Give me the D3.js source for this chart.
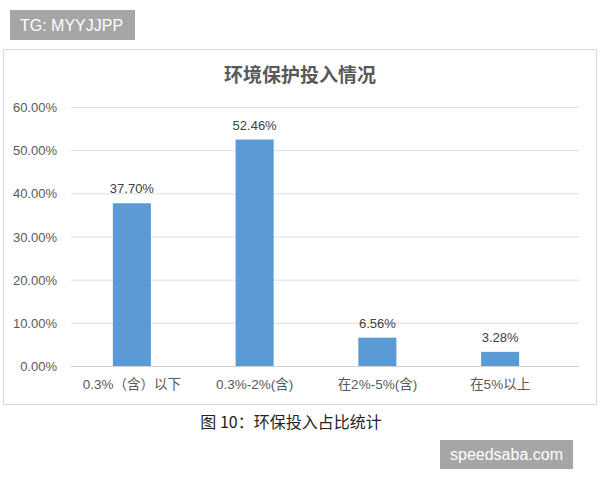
<!DOCTYPE html>
<html><head><meta charset="utf-8">
<script src="https://cdn.jsdelivr.net/npm/d3@7"></script>
<style>body{margin:0;background:#fff;}svg{display:block;}</style>
</head><body>
<svg id="c" width="600" height="480"></svg>
<script>
const categories = ["0.3%（含）以下", "0.3%-2%(含)", "在2%-5%(含)", "在5%以上"];
const values = [37.70, 52.46, 6.56, 3.28];
const yTicks = [0, 10, 20, 30, 40, 50, 60];
const title = "环境保护投入情况";
const caption = "图 10：环保投入占比统计";

const svg = d3.select("#c");
const font = "'Liberation Sans','Noto Sans CJK SC',sans-serif";
const cjk = "'Noto Sans CJK SC',sans-serif";

// watermark top
svg.append("rect").attr("x",10).attr("y",10).attr("width",125).attr("height",30).attr("fill","#a6a6a6");
svg.append("text").attr("x",20).attr("y",31).attr("fill","#fff").attr("font-family",font).attr("font-size",16).text("TG: MYYJJPP");

// chart border
svg.append("rect").attr("x",3.5).attr("y",49.5).attr("width",593).attr("height",355).attr("fill","#fff").attr("stroke","#d9d9d9");

svg.append("text").attr("x",300).attr("y",82).attr("text-anchor","middle").attr("fill","#595959")
  .attr("font-family",cjk).attr("font-size",19).attr("font-weight","bold").text(title);

const y = d3.scaleLinear().domain([0,60]).range([366,107]);
const x = d3.scaleBand().domain(categories).range([70.5,561.5]).paddingInner(0.69).paddingOuter(0.345);

const grid = svg.append("g");
grid.selectAll("line").data(yTicks).join("line")
  .attr("x1",71).attr("x2",579).attr("y1",d=>y(d)+0.5).attr("y2",d=>y(d)+0.5)
  .attr("stroke",d=>d===0?"#d0d0d0":"#dedede").attr("stroke-width",1);

const yAxis = d3.axisLeft(y).tickValues(yTicks).tickSize(0).tickPadding(0).tickFormat(d=>d.toFixed(2)+"%");
const ga = svg.append("g").attr("transform","translate(57,0)").call(yAxis);
ga.select(".domain").remove();
ga.selectAll("text").attr("fill","#595959").attr("font-family",font).attr("font-size",13).attr("dy","0.35em");

svg.append("g").selectAll("rect").data(values).join("rect")
  .attr("x",(d,i)=>x(categories[i])).attr("width",x.bandwidth())
  .attr("y",d=>y(d)).attr("height",d=>y(0)-y(d)).attr("fill","#5b9bd5");

svg.append("g").selectAll("text").data(values).join("text")
  .attr("x",(d,i)=>x(categories[i])+x.bandwidth()/2).attr("y",d=>y(d)-10)
  .attr("text-anchor","middle").attr("fill","#404040").attr("font-family",font).attr("font-size",13)
  .text(d=>d.toFixed(2)+"%");

const xAxis = d3.axisBottom(x).tickSize(0).tickPadding(0);
const gx = svg.append("g").attr("transform","translate(0,366)").call(xAxis);
gx.select(".domain").remove();
gx.selectAll("text").attr("fill","#595959").attr("font-family",font).attr("font-size",13.5).attr("dy","23");

svg.append("text").attr("x",291).attr("y",428).attr("text-anchor","middle").attr("fill","#222")
  .attr("font-family",cjk).attr("font-size",16).text(caption);

svg.append("rect").attr("x",440).attr("y",440).attr("width",133).attr("height",29).attr("fill","#a6a6a6");
svg.append("text").attr("x",506.5).attr("y",460).attr("text-anchor","middle").attr("fill","#fff").attr("font-family",font).attr("font-size",16).text("speedsaba.com");
</script>
</body></html>
